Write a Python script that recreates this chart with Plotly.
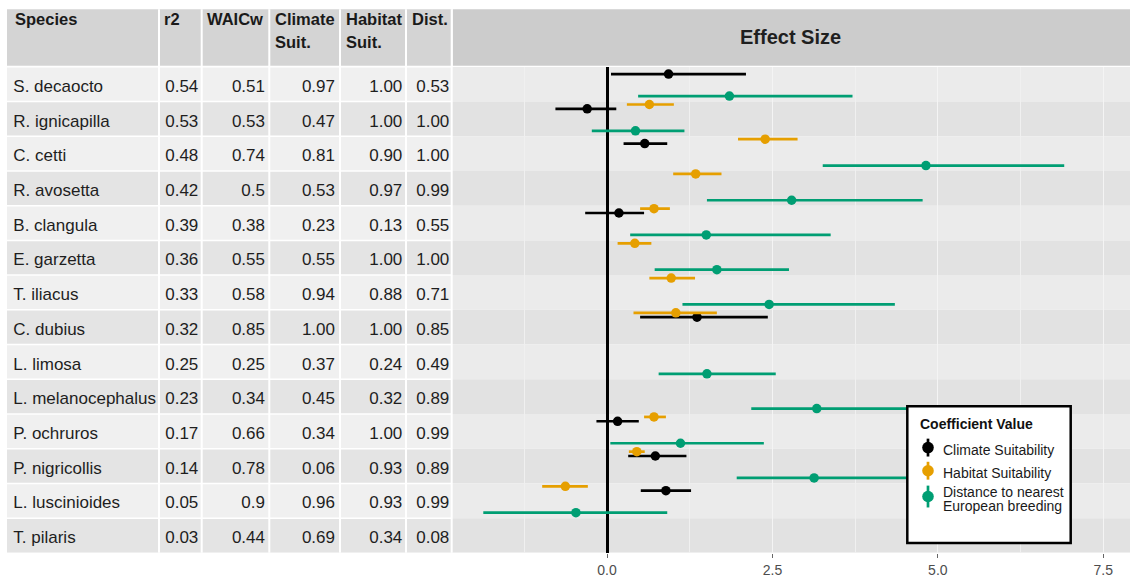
import plotly.graph_objects as go

# ---------------- data ----------------
species = ["S. decaocto", "R. ignicapilla", "C. cetti", "R. avosetta", "B. clangula",
           "E. garzetta", "T. iliacus", "C. dubius", "L. limosa", "L. melanocephalus",
           "P. ochruros", "P. nigricollis", "L. luscinioides", "T. pilaris"]
header = ["Species", "r2", "WAICw", "Climate\nSuit.", "Habitat\nSuit.", "Dist."]
r2 = [0.54, 0.53, 0.48, 0.42, 0.39, 0.36, 0.33, 0.32, 0.25, 0.23, 0.17, 0.14, 0.05, 0.03]
waicw = [0.51, 0.53, 0.74, 0.5, 0.38, 0.55, 0.58, 0.85, 0.25, 0.34, 0.66, 0.78, 0.9, 0.44]
climate_suit = [0.97, 0.47, 0.81, 0.53, 0.23, 0.55, 0.94, 1.00, 0.37, 0.45, 0.34, 0.06, 0.96, 0.69]
habitat_suit = [1.00, 1.00, 0.90, 0.97, 0.13, 1.00, 0.88, 1.00, 0.24, 0.32, 1.00, 0.93, 0.93, 0.34]
dist_suit = [0.53, 1.00, 1.00, 0.99, 0.55, 1.00, 0.71, 0.85, 0.49, 0.89, 0.99, 0.89, 0.99, 0.08]

climate_est = [0.93, -0.30, 0.57, None, 0.18, None, None, 1.36, None, None, 0.16, 0.73, 0.89, None]
climate_lo = [0.06, -0.78, 0.25, None, -0.33, None, None, 0.50, None, None, -0.16, 0.32, 0.51, None]
climate_hi = [2.10, 0.14, 0.91, None, 0.56, None, None, 2.43, None, None, 0.48, 1.20, 1.27, None]

habitat_est = [None, 0.64, 2.39, 1.34, 0.71, 0.42, 0.97, 1.04, None, None, 0.71, 0.45, -0.63, None]
habitat_lo = [None, 0.30, 1.98, 1.00, 0.50, 0.16, 0.64, 0.40, None, None, 0.56, 0.33, -0.98, None]
habitat_hi = [None, 1.01, 2.88, 1.73, 0.95, 0.67, 1.33, 1.66, None, None, 0.89, 0.57, -0.29, None]

dist_est = [1.85, 0.43, 4.82, 2.79, 1.50, 1.66, 2.45, None, 1.51, 3.17, 1.11, 3.13, -0.47, None]
dist_lo = [0.47, -0.23, 3.26, 1.51, 0.35, 0.72, 1.14, None, 0.78, 2.18, 0.05, 1.96, -1.87, None]
dist_hi = [3.71, 1.17, 6.91, 4.77, 3.38, 2.75, 4.35, None, 2.55, 4.60, 2.37, 4.60, 0.91, None]

series_names = ["Climate Suitability", "Habitat Suitability",
                "Distance to nearest\nEuropean breeding"]
legend_title = "Coefficient Value"
panel_title = "Effect Size"
x_ticks = [0, 2.5, 5, 7.5]

# ---------------- style / layout constants ----------------
W, H = 1130, 578
FONT = "Liberation Sans, Arial, sans-serif"
COLORS = ["#000000", "#E69F00", "#009E73"]
DODGE = [-0.29, -0.415, 0.343]          # vertical dodge of each series (row units)
TEXT_DY = 0.1                           # baseline nudge of table text (row units)
PANEL_TOP, PANEL_BOT = 67.3, 556.7
HEAD_TOP, HEAD_BOT = 9.3, 66.3
TABLE_L, SPLIT = 7, 452
COL_BOUNDS = [159, 201.7, 269.3, 340, 406, 451.7]
COL_TEXT_X = [13.3, 198.3, 265, 335, 402.3, 449.3]     # left for species, right edge for numbers
HEAD_TEXT_X = [13.3, 162.3, 205, 273.3, 344, 410]


def px(x):
    return x / W


def py(y):
    return 1 - y / H


n = len(species)
rows = list(range(n))

fig = go.Figure()

# ---------------- table text ----------------
fmt2 = lambda v: f"{v:.2f}"
columns = [species, [fmt2(v) for v in r2], [str(v) for v in waicw],
           [fmt2(v) for v in climate_suit], [fmt2(v) for v in habitat_suit],
           [fmt2(v) for v in dist_suit]]
for ci, col in enumerate(columns):
    fig.add_trace(go.Scatter(
        x=[COL_TEXT_X[ci]] * n, y=[r + TEXT_DY for r in rows], text=col, mode="text",
        textposition="middle right" if ci == 0 else "middle left",
        textfont=dict(family=FONT, size=17, color="#1e1e1e"),
        marker=dict(size=1), hoverinfo="skip", xaxis="x", yaxis="y"))

# ---------------- forest plot ----------------
series = [(climate_est, climate_lo, climate_hi),
          (habitat_est, habitat_lo, habitat_hi),
          (dist_est, dist_lo, dist_hi)]
for si, (est, lo, hi) in enumerate(series):
    xs, ys, plus, minus = [], [], [], []
    for i in rows:
        if est[i] is None:
            continue
        xs.append(est[i])
        ys.append(i + DODGE[si])
        plus.append(hi[i] - est[i])
        minus.append(est[i] - lo[i])
    fig.add_trace(go.Scatter(
        x=xs, y=ys, mode="markers", name=series_names[si].replace("\n", " "),
        marker=dict(size=9.5, color=COLORS[si], line=dict(width=0)),
        error_x=dict(type="data", symmetric=False, array=plus, arrayminus=minus,
                     color=COLORS[si], thickness=2.7, width=0),
        xaxis="x2", yaxis="y", showlegend=False))

shapes = []
# table row backgrounds
for i in rows:
    shapes.append(dict(type="rect", xref="x", yref="y", x0=TABLE_L, x1=COL_BOUNDS[-1],
                       y0=i - 0.5, y1=i + 0.5, line=dict(width=0),
                       fillcolor="#f0f0f0" if i % 2 == 0 else "#e4e4e4", layer="below"))
# plot stripes
for i in rows:
    shapes.append(dict(type="rect", xref="x2 domain", yref="y", x0=0, x1=1,
                       y0=i - 0.5, y1=i + 0.5, line=dict(width=0),
                       fillcolor="#ebebeb" if i % 2 == 0 else "#e2e2e2", layer="below"))
# header fills
shapes.append(dict(type="rect", xref="paper", yref="paper", x0=px(TABLE_L), x1=px(COL_BOUNDS[-1]),
                   y0=py(HEAD_BOT), y1=py(HEAD_TOP), line=dict(width=0), fillcolor="#d4d4d4"))
shapes.append(dict(type="rect", xref="paper", yref="paper", x0=px(SPLIT + 0.7), x1=1,
                   y0=py(HEAD_BOT), y1=py(HEAD_TOP), line=dict(width=0), fillcolor="#cccccc"))
# white separators in table
for xb in COL_BOUNDS:
    shapes.append(dict(type="line", xref="paper", yref="paper", x0=px(xb), x1=px(xb),
                       y0=py(PANEL_BOT), y1=py(HEAD_TOP), line=dict(color="white", width=2)))
for i in range(n):
    shapes.append(dict(type="line", xref="x", yref="y", x0=TABLE_L, x1=COL_BOUNDS[-1],
                       y0=i - 0.5, y1=i - 0.5, line=dict(color="white", width=1.5)))

# legend box
LB = dict(l=907.3, r=1070.7, t=409, b=546.7)
shapes.append(dict(type="rect", xref="paper", yref="paper", x0=px(LB["l"]), x1=px(LB["r"]),
                   y0=py(LB["b"]), y1=py(LB["t"]), fillcolor="white",
                   line=dict(color="black", width=2.5), layer="above"))
glyph_y = [450.7, 474, 500]
glyph_half = [9, 9, 11]
gx = 928
for k in range(3):
    shapes.append(dict(type="line", xref="paper", yref="paper", x0=px(gx), x1=px(gx),
                       y0=py(glyph_y[k] + glyph_half[k]), y1=py(glyph_y[k] - glyph_half[k]),
                       line=dict(color=COLORS[k], width=2.7), layer="above"))
    shapes.append(dict(type="circle", xref="paper", yref="paper",
                       x0=px(gx - 5.8), x1=px(gx + 5.8),
                       y0=py(glyph_y[k] + 5.8), y1=py(glyph_y[k] - 5.8),
                       fillcolor=COLORS[k], line=dict(width=0), layer="above"))

annotations = []
# header labels
for ci, h in enumerate(header):
    for li, part in enumerate(h.split("\n")):
        annotations.append(dict(xref="paper", yref="paper", x=px(HEAD_TEXT_X[ci]),
                                y=py(19.5 + 23 * li), text=f"<b>{part}</b>", showarrow=False,
                                xanchor="left", yanchor="middle",
                                font=dict(family=FONT, size=16.5, color="#1a1a1a")))
annotations.append(dict(xref="paper", yref="paper", x=px(790.5), y=py(37), text=f"<b>{panel_title}</b>",
                        showarrow=False, xanchor="center", yanchor="middle",
                        font=dict(family=FONT, size=20, color="#1f1f1f")))
# legend text
annotations.append(dict(xref="paper", yref="paper", x=px(917.5), y=py(427),
                        text=f"<b>{legend_title}</b>", showarrow=False, xanchor="left",
                        yanchor="middle", font=dict(family=FONT, size=14, color="#111")))
label_y = [[453], [476.5], [495.5, 510]]
for k, nm in enumerate(series_names):
    for li, part in enumerate(nm.split("\n")):
        annotations.append(dict(xref="paper", yref="paper", x=px(940.5), y=py(label_y[k][li]),
                                text=part, showarrow=False, xanchor="left", yanchor="middle",
                                font=dict(family=FONT, size=14, color="#1a1a1a")))

fig.update_layout(
    width=W, height=H, margin=dict(l=0, r=0, t=0, b=0),
    paper_bgcolor="white", plot_bgcolor="rgba(0,0,0,0)", showlegend=False,
    xaxis=dict(domain=[0, SPLIT / W], range=[0, SPLIT], visible=False, fixedrange=True),
    xaxis2=dict(domain=[SPLIT / W, 1], range=[-2.343, 7.904], anchor="y",
                tickmode="array", tickvals=x_ticks, tickformat=".1f",
                ticks="outside", ticklen=4, tickwidth=1, tickcolor="#666",
                tickfont=dict(family=FONT, size=14, color="#4d4d4d"),
                showgrid=True, gridcolor="#f4f4f4", gridwidth=1.2,
                minor=dict(tickmode="linear", tick0=0, dtick=1.25, showgrid=True,
                           gridcolor="#f0f0f0", gridwidth=0.7, ticks=""),
                zeroline=True, zerolinecolor="black", zerolinewidth=2.8,
                showline=False, fixedrange=True),
    yaxis=dict(domain=[py(PANEL_BOT), py(PANEL_TOP)], range=[n - 0.5, -0.5],
               visible=False, fixedrange=True),
    shapes=shapes, annotations=annotations,
)

fig.write_html("out.html")
